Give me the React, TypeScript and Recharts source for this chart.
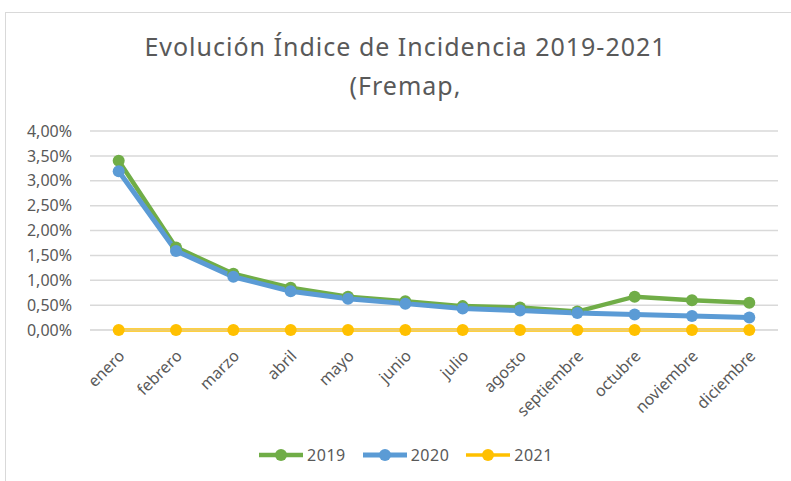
import React from 'react';
import { LineChart, Line, XAxis, YAxis, CartesianGrid, Legend } from 'recharts';

const months = ['enero', 'febrero', 'marzo', 'abril', 'mayo', 'junio', 'julio', 'agosto', 'septiembre', 'octubre', 'noviembre', 'diciembre'];
const serie2019 = [3.40, 1.66, 1.13, 0.85, 0.67, 0.58, 0.48, 0.45, 0.37, 0.67, 0.60, 0.55];
const serie2020 = [3.19, 1.59, 1.07, 0.78, 0.63, 0.53, 0.43, 0.39, 0.34, 0.31, 0.28, 0.25];
const serie2021 = [0, 0, 0, 0, 0, 0, 0, 0, 0, 0, 0, 0];
const yTicks = [0, 0.5, 1, 1.5, 2, 2.5, 3, 3.5, 4];

const series = [
  { key: '2019', color: '#70AD47', width: 4.5 },
  { key: '2020', color: '#5B9BD5', width: 5 },
  { key: '2021', color: '#FFC000', width: 3.5 },
];

const data = months.map((m, i) => ({
  month: m,
  '2019': serie2019[i],
  '2020': serie2020[i],
  '2021': serie2021[i],
}));

const FONT = '"Noto Sans", sans-serif';
const GREY = '#595959';

const fmtPct = (v: number) => v.toFixed(2).replace('.', ',') + '%';

// rotated month labels, end of text sits just right of the tick
const MonthTick = (props: any) => {
  const { x, y, payload } = props;
  const tx = x + 7;
  const ty = y + 19;
  return (
    <text
      x={tx}
      y={ty}
      textAnchor="end"
      fill={GREY}
      fontSize={16}
      fontFamily={FONT}
      transform={`rotate(-45, ${tx}, ${ty})`}
    >
      {payload.value}
    </text>
  );
};

const LegendContent = () => (
  <div style={{ display: 'flex', justifyContent: 'center', gap: 16, fontFamily: FONT, fontSize: 16, color: GREY }}>
    {series.map(s => (
      <div key={s.key} style={{ display: 'flex', alignItems: 'center', gap: 3 }}>
        <svg width={46} height={14}>
          <line x1={1} y1={7} x2={45} y2={7} stroke={s.color} strokeWidth={s.width} />
          <circle cx={23} cy={7} r={6} fill={s.color} />
        </svg>
        <span style={{ letterSpacing: 0.5 }}>{s.key}</span>
      </div>
    ))}
  </div>
);

export default function App() {
  return (
    <div style={{ position: 'absolute', left: 0, top: 0, width: 791, height: 481, background: '#fff', overflow: 'hidden' }}>
      <div style={{ position: 'absolute', left: 5, top: 12, width: 820, height: 520, border: '1px solid #d9d9d9', boxSizing: 'border-box' }} />
      <div style={{ position: 'absolute', left: 0, top: 27, width: 811, textAlign: 'center', fontFamily: FONT, fontSize: 25, letterSpacing: 1, color: GREY, lineHeight: '39px' }}>
        <div>Evolución Índice de Incidencia 2019-2021</div>
        <div>(Fremap,</div>
      </div>
      <div style={{ position: 'absolute', left: 0, top: 0 }}>
        <LineChart width={791} height={481} data={data} margin={{ top: 131, right: 13, left: 0, bottom: 12 }}>
          <CartesianGrid vertical={false} stroke="#d9d9d9" strokeWidth={1.5} />
          <XAxis
            dataKey="month"
            tick={<MonthTick />}
            tickLine={false}
            axisLine={{ stroke: '#d9d9d9' }}
            interval={0}
            height={117}
            padding={{ left: 28.7, right: 28.7 }}
          />
          <YAxis
            domain={[0, 4]}
            ticks={yTicks}
            tickFormatter={fmtPct}
            tickLine={false}
            axisLine={false}
            tickSize={0}
            tickMargin={18}
            width={90}
            tick={{ fill: GREY, fontSize: 16, fontFamily: FONT }}
          />
          <Legend verticalAlign="bottom" content={<LegendContent />} wrapperStyle={{ left: 0, width: 811, bottom: 15 }} />
          {series.map(s => (
            <Line
              key={s.key}
              dataKey={s.key}
              stroke={s.color}
              strokeWidth={s.width}
              dot={{ r: 6, fill: s.color, stroke: s.color, strokeWidth: 0 }}
              activeDot={false}
              isAnimationActive={false}
            />
          ))}
        </LineChart>
      </div>
    </div>
  );
}
